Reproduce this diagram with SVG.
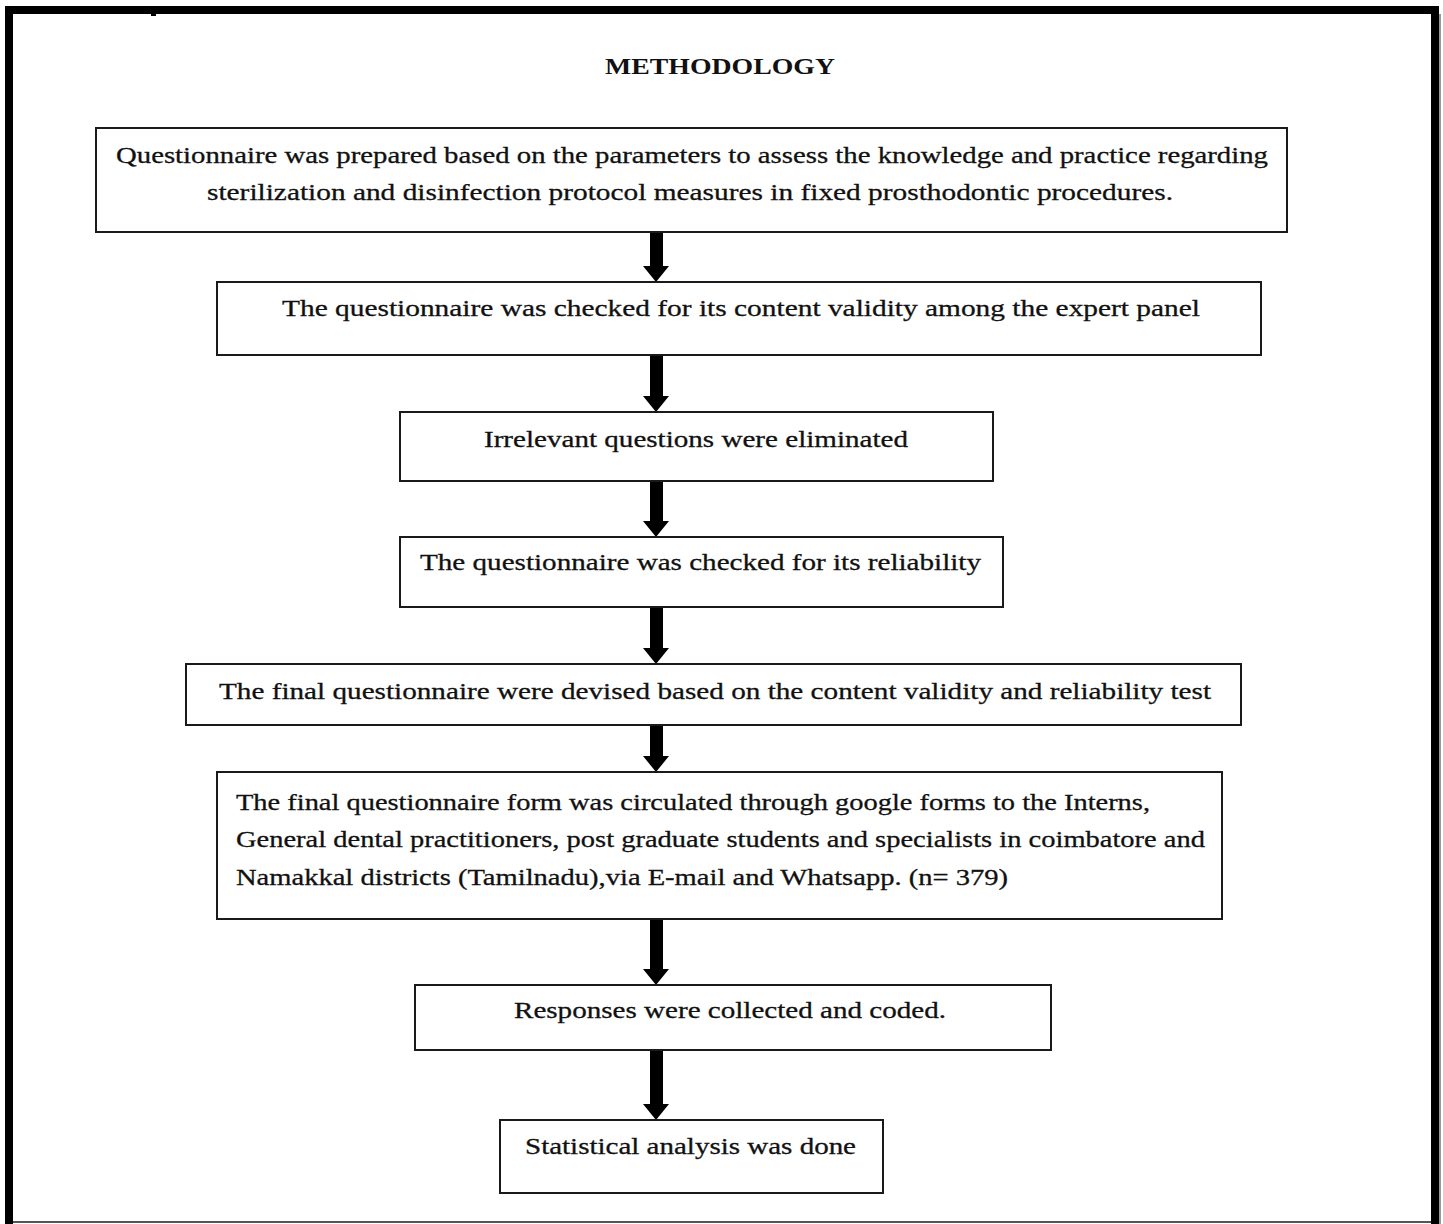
<svg xmlns="http://www.w3.org/2000/svg" width="1443" height="1224" viewBox="0 0 1443 1224">
<style>
.box{fill:#fff;stroke:#1a1a1a;stroke-width:2}
.t{font-family:"Liberation Serif","DejaVu Serif",serif;font-size:24px;fill:#111;stroke:#111;stroke-width:0.3}
.title{font-family:"Liberation Serif","DejaVu Serif",serif;font-size:23px;font-weight:bold;fill:#111}
.shaft{fill:#000}
.head{fill:#000}
</style>
<rect x="0" y="0" width="1443" height="1224" fill="#fff"/>
<g id="frame">
<rect x="5" y="6" width="1434" height="8" fill="#000"/>
<rect x="5" y="6" width="8" height="1218" fill="#000"/>
<rect x="1431" y="6" width="8" height="1218" fill="#000"/>
<rect x="1439" y="14" width="2" height="1210" fill="#999"/>
<rect x="13" y="1221" width="1418" height="2" fill="#555"/>
<rect x="151" y="14" width="5" height="2" fill="#000"/>
</g>
<text class="title" x="720" y="74" text-anchor="middle" textLength="230" lengthAdjust="spacingAndGlyphs">METHODOLOGY</text>
<g id="connectors">
<rect class="shaft" x="650" y="232" width="13" height="35"/><path class="head" d="M643,266 L669,266 L656,282 Z"/>
<rect class="shaft" x="650" y="355" width="13" height="42"/><path class="head" d="M643,396 L669,396 L656,412 Z"/>
<rect class="shaft" x="650" y="481" width="13" height="41"/><path class="head" d="M643,521 L669,521 L656,537 Z"/>
<rect class="shaft" x="650" y="607" width="13" height="42"/><path class="head" d="M643,648 L669,648 L656,664 Z"/>
<rect class="shaft" x="650" y="725" width="13" height="32"/><path class="head" d="M643,756 L669,756 L656,772 Z"/>
<rect class="shaft" x="650" y="919" width="13" height="51"/><path class="head" d="M643,969 L669,969 L656,985 Z"/>
<rect class="shaft" x="650" y="1050" width="13" height="55"/><path class="head" d="M643,1104 L669,1104 L656,1120 Z"/>
</g>
<g id="n1">
<rect class="box" x="96" y="128" width="1191" height="104"/>
<text class="t" x="116" y="163" textLength="1152" lengthAdjust="spacingAndGlyphs">Questionnaire was prepared based on the parameters to assess the knowledge and practice regarding</text>
<text class="t" x="207" y="200" textLength="966" lengthAdjust="spacingAndGlyphs">sterilization and disinfection protocol measures in fixed prosthodontic procedures.</text>
</g>
<g id="n2">
<rect class="box" x="217" y="282" width="1044" height="73"/>
<text class="t" x="282" y="316" textLength="918" lengthAdjust="spacingAndGlyphs">The questionnaire  was checked for its content validity among the expert panel</text>
</g>
<g id="n3">
<rect class="box" x="400" y="412" width="593" height="69"/>
<text class="t" x="484" y="447" textLength="424" lengthAdjust="spacingAndGlyphs">Irrelevant questions were eliminated</text>
</g>
<g id="n4">
<rect class="box" x="400" y="537" width="603" height="70"/>
<text class="t" x="420" y="570" textLength="561" lengthAdjust="spacingAndGlyphs">The questionnaire was checked for its reliability</text>
</g>
<g id="n5">
<rect class="box" x="186" y="664" width="1055" height="61"/>
<text class="t" x="219" y="699" textLength="992" lengthAdjust="spacingAndGlyphs">The final questionnaire were devised based on the content validity and reliability test</text>
</g>
<g id="n6">
<rect class="box" x="217" y="772" width="1005" height="147"/>
<text class="t" x="236" y="810" textLength="914" lengthAdjust="spacingAndGlyphs">The final questionnaire form was circulated through google  forms to the Interns,</text>
<text class="t" x="236" y="847" textLength="969" lengthAdjust="spacingAndGlyphs">General dental practitioners, post graduate students and specialists in coimbatore and</text>
<text class="t" x="236" y="885" textLength="772" lengthAdjust="spacingAndGlyphs">Namakkal districts (Tamilnadu),via E-mail and Whatsapp. (n= 379)</text>
</g>
<g id="n7">
<rect class="box" x="415" y="985" width="636" height="65"/>
<text class="t" x="514" y="1018" textLength="432" lengthAdjust="spacingAndGlyphs">Responses were collected and coded.</text>
</g>
<g id="n8">
<rect class="box" x="500" y="1120" width="383" height="73"/>
<text class="t" x="525" y="1154" textLength="331" lengthAdjust="spacingAndGlyphs">Statistical analysis was done</text>
</g>
</svg>
